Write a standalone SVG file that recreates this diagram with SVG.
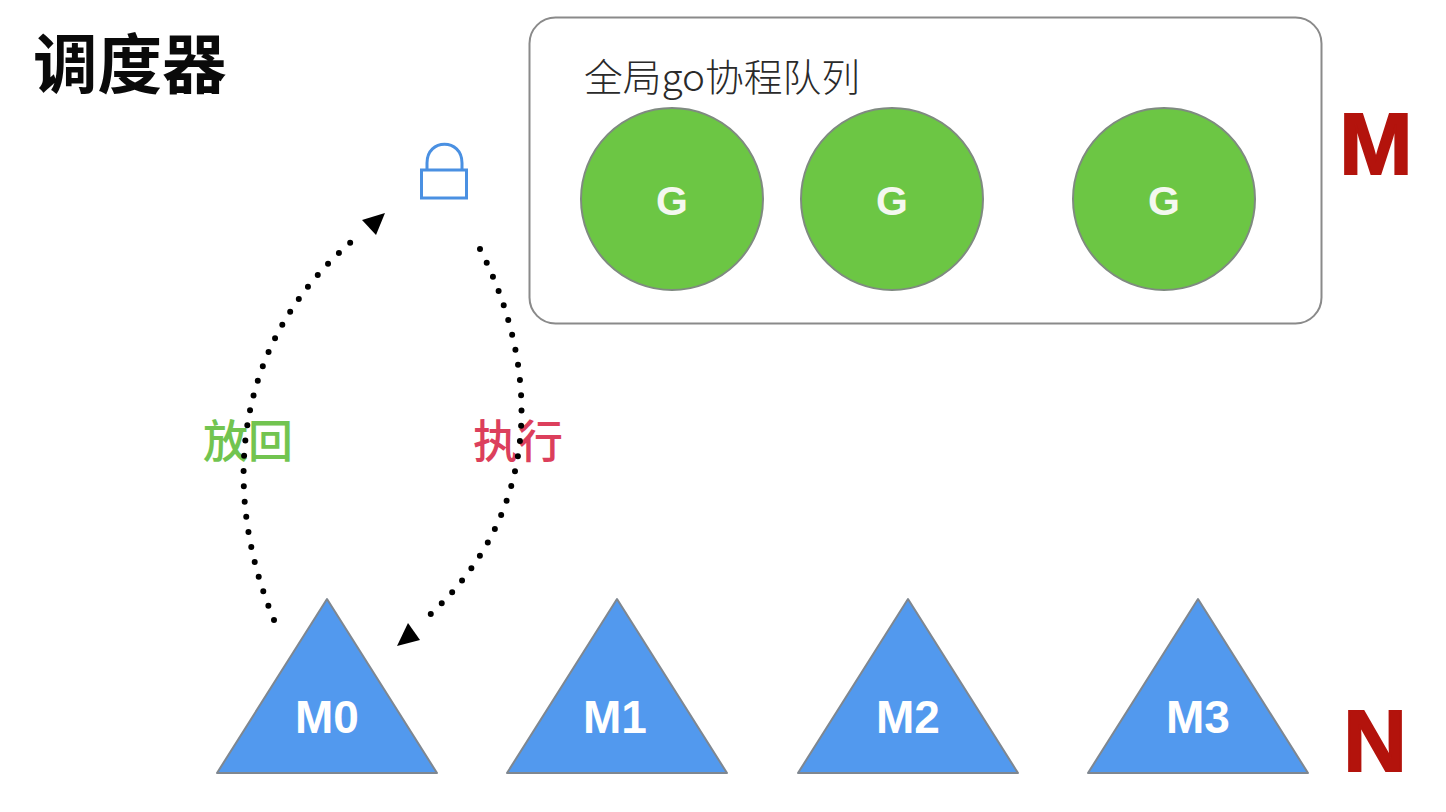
<svg xmlns="http://www.w3.org/2000/svg" width="1446" height="812" viewBox="0 0 1446 812">
<style>
text{font-family:"Liberation Sans","Noto Sans CJK SC",sans-serif}
.cjk{font-family:"Noto Sans CJK SC",sans-serif}
.g circle{fill:#6cc644;stroke:#7f8a80;stroke-width:2}
.g text{fill:#f4f8ef;font-size:41px;font-weight:700;text-anchor:middle}
.m polygon{fill:#5299ee;stroke:#7f8790;stroke-width:2;stroke-linejoin:round}
.m text{fill:#fff;font-size:46px;font-weight:700;text-anchor:middle}
.big{fill:#b3130c;stroke:#b3130c;stroke-width:2;font-size:88px;font-weight:700;text-anchor:middle}
.dot{fill:none;stroke:#000;stroke-width:6;stroke-linecap:round;stroke-dasharray:0 15.3}
</style>
<rect width="1446" height="812" fill="#fff"/>
<text id="title" class="cjk" x="33" y="88" font-size="64.500" font-weight="700" fill="#0a0a0a">调度器</text>
<g id="queue">
<rect x="529.500" y="17.500" width="792" height="306" rx="26" fill="#fff" stroke="#8a8a8a" stroke-width="2"/>
<text class="cjk" x="584" y="91" font-size="38" font-weight="300" fill="#2a2a2a" textLength="276" lengthAdjust="spacingAndGlyphs">全局go协程队列</text>
</g>
<g id="g0" class="g"><circle cx="672" cy="199" r="91"/><text x="672" y="215">G</text></g>
<g id="g1" class="g"><circle cx="892" cy="199" r="91"/><text x="892" y="215">G</text></g>
<g id="g2" class="g"><circle cx="1164" cy="199" r="91"/><text x="1164" y="215">G</text></g>
<text id="label-m" class="big" x="1376" y="174">M</text>
<g id="lock" fill="none" stroke="#4a90e2" stroke-width="3">
<rect x="421.500" y="170" width="45" height="28"/>
<path d="M427 170V163C427 138 462 138 462 163V170"/>
</g>
<text id="label-back" class="cjk" x="248" y="458" font-size="45" font-weight="500" fill="#72c450" text-anchor="middle">放回</text>
<text id="label-run" class="cjk" x="518" y="458" font-size="45" font-weight="500" fill="#dc3f5c" text-anchor="middle">执行</text>
<g id="connectors">
<path class="dot" d="M274 620C220 490 232 340 358 236"/>
<polygon points="385,213 362,220 376,235" fill="#000"/>
<path class="dot" d="M480 249C537 360 550 510 423 621"/>
<polygon points="397,646 420,640 408,623" fill="#000"/>
</g>
<g id="m0" class="m"><polygon points="327,599 437,773 217,773"/><text x="327" y="733">M0</text></g>
<g id="m1" class="m"><polygon points="617,599 727,773 507,773"/><text x="615" y="733">M1</text></g>
<g id="m2" class="m"><polygon points="908,599 1018,773 798,773"/><text x="908" y="733">M2</text></g>
<g id="m3" class="m"><polygon points="1198,599 1308,773 1088,773"/><text x="1198" y="733">M3</text></g>
<text id="label-n" class="big" x="1375" y="771">N</text>
</svg>
